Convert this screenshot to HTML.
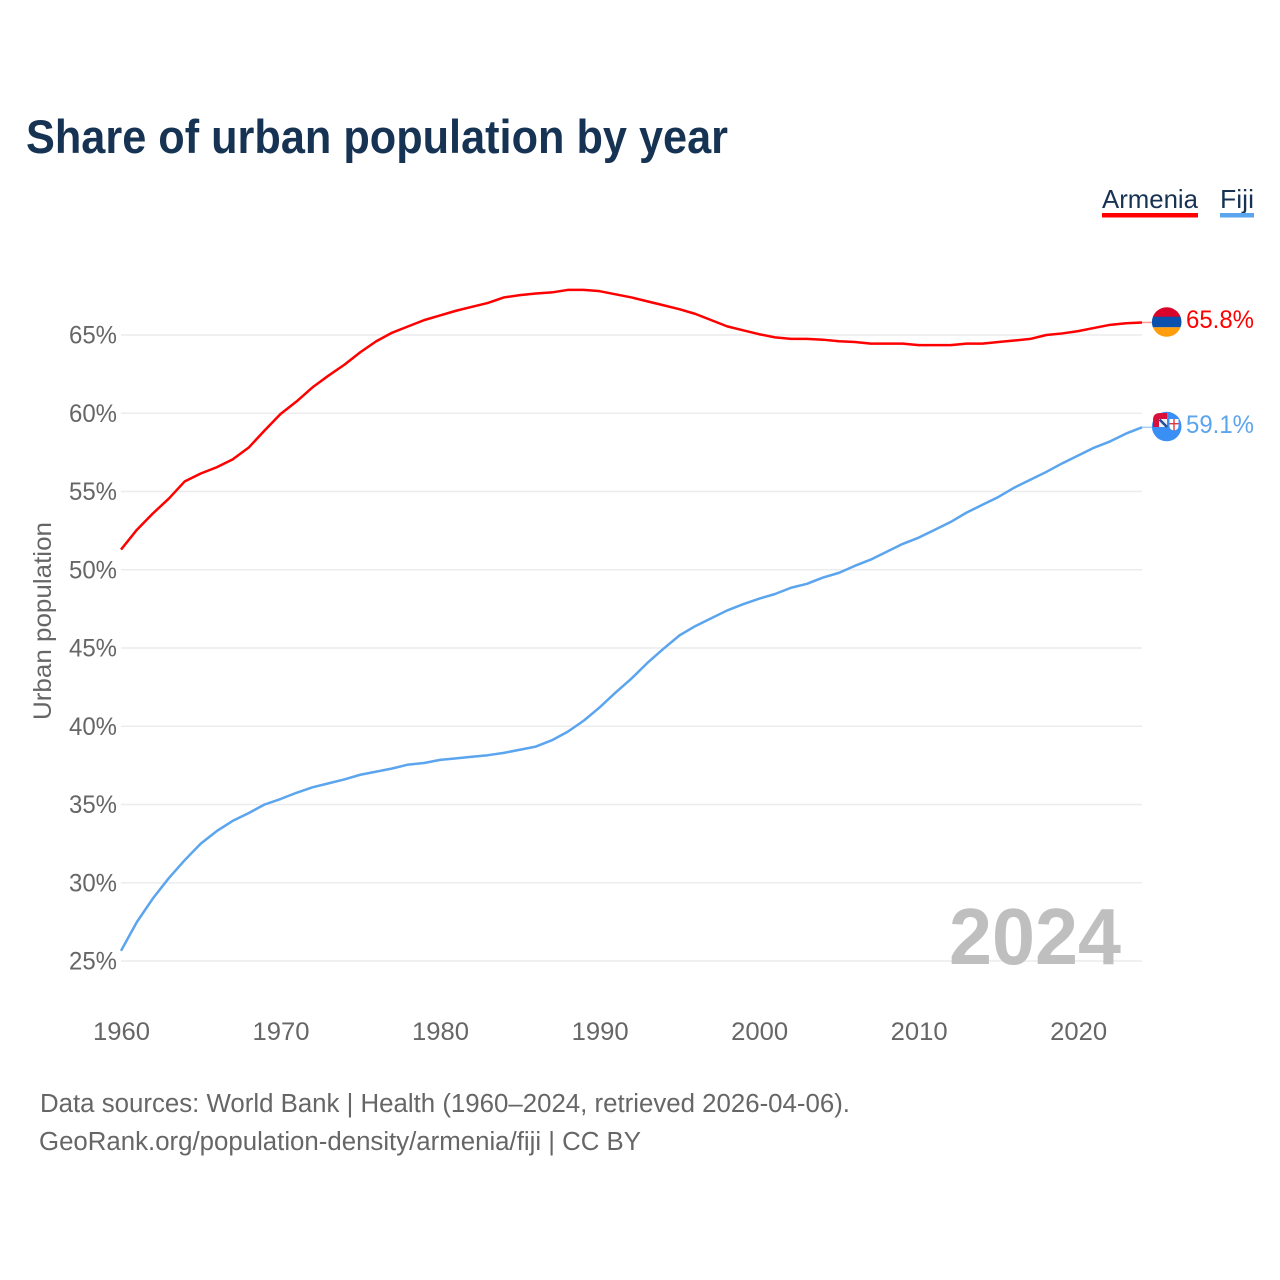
<!DOCTYPE html>
<html lang="en">
<head>
<meta charset="utf-8">
<title>Share of urban population by year</title>
<style>
html,body{margin:0;padding:0;background:#fff;width:1280px;height:1280px;overflow:hidden}
svg{display:block}
text{font-family:"Liberation Sans",sans-serif}
</style>
</head>
<body>
<svg id="chart" xmlns="http://www.w3.org/2000/svg" width="1280" height="1280" viewBox="0 0 1280 1280">
  <rect width="1280" height="1280" fill="#fff"/>
  <text x="26" y="153" font-size="47" font-weight="700" fill="#173353" textLength="702" lengthAdjust="spacingAndGlyphs">Share of urban population by year</text>

  <g>
    <text x="1102" y="208" font-size="26" fill="#173353" textLength="96" lengthAdjust="spacingAndGlyphs">Armenia</text>
    <rect x="1102" y="213" width="96" height="4.5" fill="#ff0000"/>
  </g>
  <g>
    <text x="1220" y="208" font-size="26" fill="#173353" textLength="34" lengthAdjust="spacingAndGlyphs">Fiji</text>
    <rect x="1220" y="213" width="34" height="4.5" fill="#5ba4ee"/>
  </g>

  <g id="grid"></g>
  <g id="yticks"></g>
  <g id="xticks"></g>
  <text transform="translate(51,720) rotate(-90)" font-size="25" fill="#666" textLength="198" lengthAdjust="spacingAndGlyphs">Urban population</text>

  <text x="949" y="964" font-size="80" font-weight="700" fill="#bfbfbf" textLength="172" lengthAdjust="spacingAndGlyphs">2024</text>

  <g id="lines"></g>

  <defs>
    <clipPath id="clip-am"><circle cx="1166.7" cy="322" r="14.8"/></clipPath>
  </defs>
  <g id="flag-armenia" clip-path="url(#clip-am)">
    <rect x="1150" y="305" width="34" height="12" fill="#d90429"/>
    <rect x="1150" y="316.7" width="34" height="10.6" fill="#0a50ad"/>
    <rect x="1150" y="327.3" width="34" height="12" fill="#ff9d0c"/>
  </g>
  <g id="flag-fiji">
    <circle cx="1166.7" cy="426.5" r="14.8" fill="#3a8ff5"/>
    <path d="M1167 413 H1160 Q1153 413 1153 420 V427 H1167 Z" fill="#d90f3c"/>
    <rect x="1159" y="419" width="8" height="8" fill="#f2f2f2"/>
    <path d="M1159.5 419.5 L1167 427" stroke="#1f4e9a" stroke-width="2.6"/>
    <path d="M1169.5 419 H1178.5 V426 Q1178.5 430 1174 430.5 Q1169.5 430 1169.5 426 Z" fill="#fff"/>
    <rect x="1173.3" y="419" width="1.4" height="11.5" fill="#e2363f"/>
    <rect x="1169.5" y="423" width="9" height="1.4" fill="#e2363f"/>
  </g>

  <text x="1186" y="328" font-size="25" fill="#ff0000" textLength="68" lengthAdjust="spacingAndGlyphs">65.8%</text>
  <text x="1186" y="433" font-size="25" fill="#5ba4ee" textLength="68" lengthAdjust="spacingAndGlyphs">59.1%</text>

  <text x="40" y="1112" font-size="25.5" fill="#666" textLength="810" lengthAdjust="spacingAndGlyphs">Data sources: World Bank | Health (1960–2024, retrieved 2026-04-06).</text>
  <a><text x="39" y="1150" font-size="25.5" fill="#666" textLength="602" lengthAdjust="spacingAndGlyphs">GeoRank.org/population-density/armenia/fiji | CC BY</text></a>
</svg>

<script>
const startYear = 1960;
const yTicks = [25, 30, 35, 40, 45, 50, 55, 60, 65];
const xTicks = [1960, 1970, 1980, 1990, 2000, 2010, 2020];
const armeniaValues = [
  51.29, 52.56, 53.6, 54.55, 55.65, 56.15, 56.55, 57.05, 57.8, 58.9,
  59.95, 60.75, 61.65, 62.4, 63.1, 63.9, 64.6, 65.15, 65.55, 65.95,
  66.25, 66.55, 66.8, 67.05, 67.4, 67.55, 67.65, 67.72, 67.88, 67.88,
  67.8, 67.6, 67.4, 67.15, 66.9, 66.65, 66.35, 65.95, 65.55, 65.3,
  65.05, 64.85, 64.75, 64.75, 64.7, 64.6, 64.55, 64.45, 64.45, 64.45,
  64.35, 64.35, 64.35, 64.45, 64.45, 64.55, 64.65, 64.75, 65.0, 65.1,
  65.25, 65.45, 65.65, 65.75, 65.8
];
const fijiValues = [
  25.65, 27.5, 29.0, 30.3, 31.45, 32.5, 33.3, 33.95, 34.45, 35.0,
  35.35, 35.75, 36.1, 36.35, 36.6, 36.9, 37.1, 37.3, 37.55, 37.65,
  37.85, 37.95, 38.05, 38.15, 38.3, 38.5, 38.7, 39.1, 39.65, 40.35,
  41.2, 42.15, 43.05, 44.05, 44.95, 45.8, 46.4, 46.9, 47.4, 47.8,
  48.15, 48.45, 48.85, 49.1, 49.5, 49.8, 50.25, 50.65, 51.15, 51.65,
  52.05, 52.55, 53.05, 53.65, 54.15, 54.65, 55.25, 55.75, 56.25, 56.8,
  57.3, 57.8, 58.2, 58.7, 59.1
];

const NS = 'http://www.w3.org/2000/svg';
const xScale = year => 121 + (year - 1960) * 15.953;
const yScale = value => 961 - (value - 25) * 15.65;

function make(tag, attrs, text) {
  const el = document.createElementNS(NS, tag);
  for (const k in attrs) el.setAttribute(k, attrs[k]);
  if (text !== undefined) el.textContent = text;
  return el;
}

const grid = document.getElementById('grid');
const yGroup = document.getElementById('yticks');
yTicks.forEach(t => {
  const line = make('line', {x1: 121, x2: 1142, y1: yScale(t), y2: yScale(t), stroke: '#ececec', 'stroke-width': 1.5});
  
  
  grid.appendChild(line);
  const label = make('text', {x: 117, y: yScale(t) + 8.5, 'font-size': 25, fill: '#666', 'text-anchor': 'end', textLength: 48, lengthAdjust: 'spacingAndGlyphs'}, t + '%');
  
  
  yGroup.appendChild(label);
});

const xGroup = document.getElementById('xticks');
xTicks.forEach(t => {
  const label = make('text', {x: xScale(t) + 0.5, y: 1040, 'font-size': 25, fill: '#666', 'text-anchor': 'middle', textLength: 57, lengthAdjust: 'spacingAndGlyphs'}, String(t));
  
  
  xGroup.appendChild(label);
});

const lines = document.getElementById('lines');
function pathFor(values) {
  return values.map((v, i) => (i ? 'L' : 'M') + xScale(startYear + i).toFixed(2) + ' ' + yScale(v).toFixed(2)).join(' ');
}
const lastArmenia = armeniaValues[armeniaValues.length - 1];
const lastFiji = fijiValues[fijiValues.length - 1];
const endYear = startYear + armeniaValues.length - 1;
const armeniaTail = make('line', {x1: xScale(endYear), x2: 1153, y1: yScale(lastArmenia), y2: yScale(lastArmenia), stroke: '#ff9a9a', 'stroke-width': 1.5});


lines.appendChild(armeniaTail);
const fijiTail = make('line', {x1: xScale(endYear), x2: 1153, y1: yScale(lastFiji), y2: yScale(lastFiji), stroke: '#a9cff5', 'stroke-width': 1.5});


lines.appendChild(fijiTail);
const armeniaLine = make('path', {d: pathFor(armeniaValues), fill: 'none', stroke: '#ff0000', 'stroke-width': 2.5, 'stroke-linejoin': 'round'});


lines.appendChild(armeniaLine);
const fijiLine = make('path', {d: pathFor(fijiValues), fill: 'none', stroke: '#5ba4ee', 'stroke-width': 2.5, 'stroke-linejoin': 'round'});


lines.appendChild(fijiLine);
</script>
</body>
</html>
